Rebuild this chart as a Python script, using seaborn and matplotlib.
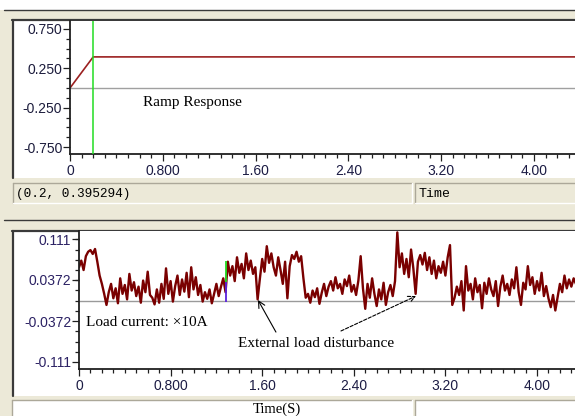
import numpy as np
import pandas as pd
import matplotlib
matplotlib.use("Agg")
import matplotlib.pyplot as plt
import seaborn as sns
from matplotlib.patches import Rectangle
from matplotlib.lines import Line2D
from matplotlib.ticker import FixedLocator, MultipleLocator, AutoMinorLocator

# ---- top trace: ramp reference ----
ramp_time = [0.0, 0.2, 5.0]
ramp_value = [0.0, 0.395294, 0.395294]
cursor_time = 0.2
cursor_readout = "(0.2, 0.395294)"

# ---- bottom trace: load current, sampled every 20 ms ----
sample_period = 0.02
load_current = [
    0.060, 0.072, 0.055, 0.080, 0.088, 0.091, 0.084, 0.093, 0.070, 0.045,
    0.030, 0.012, -0.008, 0.015, 0.030, 0.004, 0.022, -0.005, 0.040, 0.012,
    0.028, 0.002, 0.048, 0.018, 0.033, 0.008, 0.025, -0.004, 0.036, 0.015,
    0.052, 0.010, 0.005, -0.007, 0.020, -0.004, 0.030, 0.003, 0.058, 0.012,
    0.035, -0.002, 0.026, 0.045, 0.010, 0.038, 0.016, 0.050, 0.006, 0.060,
    0.020, 0.042, 0.010, 0.028, -0.002, 0.015, 0.003, 0.020, -0.005, 0.012,
    0.030, 0.008, 0.025, 0.040, 0.015, 0.070, 0.045, 0.062, 0.035, 0.078,
    0.050, 0.066, 0.040, 0.085, 0.055, 0.072, 0.048, 0.060, 0.002, 0.040,
    0.075, 0.052, 0.098, 0.068, 0.085, 0.060, 0.045, 0.078, 0.055, 0.030,
    0.070, 0.004, 0.062, 0.082, 0.075, 0.088, 0.070, 0.080, 0.040, 0.005,
    0.012, -0.004, 0.018, 0.006, 0.022, -0.006, 0.014, 0.030, 0.008, 0.025,
    0.035, 0.018, 0.042, 0.022, 0.030, 0.012, 0.038, 0.026, 0.045, 0.016,
    0.028, 0.010, 0.036, 0.080, 0.022, -0.015, 0.030, 0.005, 0.040, 0.012,
    -0.010, 0.020, 0.002, 0.032, -0.008, 0.015, 0.028, 0.008, 0.035, 0.123,
    0.060, 0.085, 0.048, 0.075, 0.042, 0.092, 0.058, 0.012, 0.070, 0.082,
    0.065, 0.086, 0.055, 0.078, 0.048, 0.072, 0.040, 0.062, 0.050, 0.070,
    0.045, 0.078, 0.100, -0.008, 0.005, 0.025, 0.010, 0.035, -0.018, 0.062,
    0.018, 0.030, 0.002, 0.040, 0.015, 0.028, -0.014, 0.032, 0.012, 0.040,
    0.020, 0.008, 0.035, -0.010, 0.025, 0.045, 0.018, 0.030, 0.010, 0.038,
    0.022, 0.060, 0.015, -0.008, 0.032, 0.020, 0.062, 0.028, 0.042, 0.012,
    0.035, 0.018, 0.050, 0.008, 0.026, 0.004, -0.012, 0.010, -0.018, 0.006,
    0.030, 0.015, 0.045, 0.022, 0.038, 0.025, 0.040, 0.030,
]
load_cursor_time = 1.284
load_cursor_green = [0.034, 0.071]
load_cursor_blue = [-0.003, 0.034]

# ---- axis ticks and labels ----
x_ticks = [0.0, 0.8, 1.6, 2.4, 3.2, 4.0]
x_tick_labels = ["0", "0.800", "1.60", "2.40", "3.20", "4.00"]
top_y_ticks = [0.75, 0.25, -0.25, -0.75]
top_y_labels = ["0.750", "0.250", "-0.250", "-0.750"]
bottom_y_ticks = [0.111, 0.0372, -0.0372, -0.111]
bottom_y_labels = ["0.111", "0.0372", "-0.0372", "-0.111"]

sns.set_style("white")
plt.rcParams["font.family"] = ["Liberation Sans", "DejaVu Sans"]

W, H = 575, 416
BEIGE = "#ECE9D8"
DARK = "#3a3a3a"
SERIF = ["Liberation Serif", "DejaVu Serif"]
MONO = ["Liberation Mono", "DejaVu Sans Mono"]

fig = plt.figure(figsize=(W / 100, H / 100), dpi=100, facecolor=BEIGE)


def fx(px):
    return px / W


def fy(py):
    return 1 - py / H


def frect(x0, y0, x1, y1, **kw):
    kw.setdefault("zorder", -5)
    kw.setdefault("linewidth", 0)
    fig.add_artist(Rectangle((fx(x0), fy(y1)), (x1 - x0) / W, (y1 - y0) / H,
                             transform=fig.transFigure, **kw))


def fline(x0, y0, x1, y1, **kw):
    kw.setdefault("zorder", -4)
    fig.add_artist(Line2D([fx(x0), fx(x1)], [fy(y0), fy(y1)],
                          transform=fig.transFigure, **kw))


def sunken_box(x0, y0, x1, y1, face):
    frect(x0, y0, x1, y1, facecolor=face)
    fline(x0, y0, x1, y0, color="#ACA899", lw=1)
    fline(x0, y0, x0, y1, color="#ACA899", lw=1)
    fline(x0, y1, x1, y1, color="white", lw=1)
    fline(x1, y0, x1, y1, color="white", lw=1)


# window chrome
frect(0, 0, W, 9.5, facecolor="white")
fline(4, 10, W, 10, color=DARK, lw=1)
fline(12, 20, W, 20, color=DARK, lw=1.6)
frect(13, 21, W, 178, facecolor="white")
fline(12.5, 20, 12.5, 178, color=DARK, lw=1.6)

sunken_box(13, 183, 412, 203, BEIGE)
sunken_box(415, 183, W + 2, 203, BEIGE)
fig.text(fx(16), fy(193.5), cursor_readout, family=MONO, fontsize=9.2,
         va="center", ha="left", color="black")
fig.text(fx(418), fy(193.5), "Time", family=MONO, fontsize=9.5,
         va="center", ha="left", color="black")

fline(4, 220.5, W, 220.5, color=DARK, lw=1)
fline(12, 230.5, W, 230.5, color=DARK, lw=1.6)
frect(13, 231, W, 396, facecolor="white")
fline(12.5, 230.5, 12.5, 396, color=DARK, lw=1.6)

sunken_box(12, 400, 412, H + 2, "white")
sunken_box(415, 400, W + 2, H + 2, "white")
fig.text(fx(277), fy(402.5), "Time(S)", family=SERIF, fontsize=10.5,
         va="top", ha="center", color="black")


def style_axis(ax, yticks, ylabels, label_color):
    for side in ("top", "right"):
        ax.spines[side].set_visible(False)
    for side in ("left", "bottom"):
        ax.spines[side].set_color("#202020")
        ax.spines[side].set_linewidth(1.3)
    ax.set_facecolor("white")
    ax.xaxis.set_major_locator(FixedLocator(x_ticks))
    ax.set_xticklabels(x_tick_labels)
    ax.xaxis.set_minor_locator(MultipleLocator(0.1))
    ax.yaxis.set_major_locator(FixedLocator(yticks))
    ax.set_yticklabels(ylabels)
    ax.tick_params(which="both", direction="out", color="#202020", width=0.9,
                   bottom=True, left=True, top=False, right=False)
    ax.tick_params(which="major", length=5, labelsize=10)
    ax.tick_params(which="minor", length=2.8)
    ax.tick_params(axis="y", which="major", pad=0.5, labelcolor=label_color)
    ax.tick_params(axis="x", which="major", pad=2.5, labelcolor="#1c1c44")
    ax.set_xlabel("")
    ax.set_ylabel("")


# ---- top panel: ramp response ----
ax_top = fig.add_axes([fx(70), fy(154), 1 - fx(70), (154 - 21) / H])
ax_top.axhline(0, color="#a0a0a0", lw=1.0, zorder=1)
sns.lineplot(x=ramp_time, y=ramp_value, ax=ax_top, color="#9b2020",
             linewidth=1.2, estimator=None, zorder=2)
ax_top.axvline(cursor_time, color="#22dd22", lw=1.1, zorder=3)
ax_top.set_xlim(0, (W - 70) / 116.0)
ax_top.set_ylim(-66 / 78.67, 67 / 78.67)
ax_top.yaxis.set_minor_locator(AutoMinorLocator(4))
style_axis(ax_top, top_y_ticks, top_y_labels, "#1c1c3c")
ax_top.text(0.629, -0.19, "Ramp Response", family=SERIF, fontsize=11,
            va="center", ha="left", color="black")

# ---- bottom panel: load current ----
ax_bot = fig.add_axes([fx(79), fy(369), 1 - fx(79), (369 - 231) / H])
load_df = pd.DataFrame({
    "time": np.arange(len(load_current)) * sample_period,
    "current": load_current,
})
ax_bot.axhline(0, color="#9a9a9a", lw=1.0, zorder=1)
sns.lineplot(data=load_df, x="time", y="current", ax=ax_bot, color="#7a0000",
             linewidth=1.7, estimator=None, zorder=2)
ax_bot.vlines(load_cursor_time, *load_cursor_green, color="#22dd22", lw=1.3, zorder=3)
ax_bot.vlines(load_cursor_time, *load_cursor_blue, color="#5a22dd", lw=1.3, zorder=3)
ax_bot.set_xlim(0, (W - 79) / 114.5)
ax_bot.set_ylim(-68.5 / 554, 69.5 / 554)
ax_bot.yaxis.set_minor_locator(AutoMinorLocator(4))
style_axis(ax_bot, bottom_y_ticks, bottom_y_labels, "#2c2264")

ax_bot.text(0.061, -0.039, "Load current: \u00d710A", family=SERIF, fontsize=11,
            va="center", ha="left", color="black")
ax_bot.text(1.389, -0.0785, "External load disturbance", family=SERIF,
            fontsize=11, va="center", ha="left", color="black")
ax_bot.annotate("", xy=(1.563, 0.001), xytext=(1.72, -0.057),
                arrowprops=dict(arrowstyle="->", color="black", lw=0.8,
                                mutation_scale=12, shrinkA=0, shrinkB=0),
                zorder=4)
ax_bot.annotate("", xy=(2.943, 0.008), xytext=(2.288, -0.055),
                arrowprops=dict(arrowstyle="->", color="black", lw=0.8,
                                linestyle=(0, (3, 1.5)), mutation_scale=12,
                                shrinkA=0, shrinkB=0),
                zorder=4)

fig.savefig("out.png", dpi=100, facecolor=BEIGE)
